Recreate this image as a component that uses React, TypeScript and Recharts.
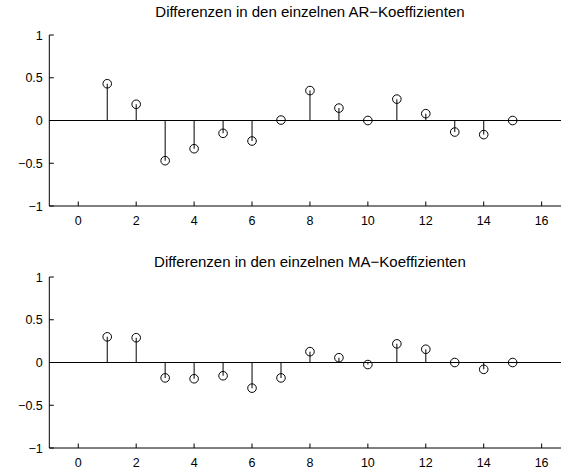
import React from 'react';
import {
  ComposedChart,
  Bar,
  Scatter,
  XAxis,
  YAxis,
  ReferenceLine,
} from 'recharts';

// lag index 1..15 and the coefficient differences per lag
const lags = [1, 2, 3, 4, 5, 6, 7, 8, 9, 10, 11, 12, 13, 14, 15];
const arDiff = [0.43, 0.19, -0.47, -0.33, -0.15, -0.24, 0.005, 0.35, 0.145, 0.0, 0.25, 0.08, -0.135, -0.165, 0.0];
const maDiff = [0.3, 0.29, -0.18, -0.19, -0.155, -0.3, -0.18, 0.127, 0.056, -0.024, 0.218, 0.155, 0.0, -0.08, 0.0];

const xTicks = [0, 2, 4, 6, 8, 10, 12, 14, 16];
const yTicks = [-1, -0.5, 0, 0.5, 1];

const FONT = '"Liberation Sans", Arial, Helvetica, sans-serif';
const INK = '#000';

const minus = (v: number) => String(v).replace('-', '\u2212');

// ticks point inward, labels sit outside the axes
const XTick = (props: any) => {
  const { x, y, payload } = props;
  return (
    <g>
      <line x1={x} x2={x} y1={y} y2={y - 4.5} stroke={INK} />
      <text x={x} y={y + 19} textAnchor="middle" fontSize={12.5} fontFamily={FONT} fill={INK}>
        {minus(payload.value)}
      </text>
    </g>
  );
};

const YTick = (props: any) => {
  const { x, y, payload } = props;
  return (
    <g>
      <line x1={x} x2={x + 4.5} y1={y} y2={y} stroke={INK} />
      <text x={x - 6.5} y={y + 4.5} textAnchor="end" fontSize={12.5} fontFamily={FONT} fill={INK}>
        {minus(payload.value)}
      </text>
    </g>
  );
};

const Ring = (props: any) => (
  <circle cx={props.cx} cy={props.cy} r={4.3} fill="none" stroke={INK} strokeWidth={1} />
);

const PLOT_H = 171;

const StemPlot = ({ values, top }: { values: number[]; top: number }) => {
  const data = lags.map((x, i) => ({ x, v: values[i] }));
  return (
    <ComposedChart
      width={575}
      height={235}
      data={data}
      margin={{ top, right: 4.4, bottom: 235 - top - PLOT_H - 1, left: 48.3 }}
    >
      <XAxis
        type="number"
        dataKey="x"
        domain={[-1, 17]}
        ticks={xTicks}
        height={1}
        tickSize={0}
        tickMargin={0}
        tickLine={false}
        axisLine={{ stroke: INK }}
        tick={<XTick />}
        interval={0}
        allowDataOverflow
      />
      <YAxis
        type="number"
        domain={[-1, 1]}
        ticks={yTicks}
        width={1}
        tickSize={0}
        tickMargin={0}
        tickLine={false}
        axisLine={{ stroke: INK }}
        tick={<YTick />}
        interval={0}
      />
      <ReferenceLine y={0} stroke={INK} strokeWidth={1} />
      <Bar dataKey="v" barSize={1} fill={INK} isAnimationActive={false} />
      <Scatter dataKey="v" shape={<Ring />} isAnimationActive={false} />
    </ComposedChart>
  );
};

const Title = ({ text, y }: { text: string; y: number }) => (
  <div
    style={{
      position: 'absolute',
      left: 49.3,
      width: 521.3,
      top: y,
      textAlign: 'center',
      fontFamily: FONT,
      fontSize: 15,
      lineHeight: '15px',
      whiteSpace: 'nowrap',
      color: INK,
    }}
  >
    {text}
  </div>
);

export default function App() {
  return (
    <div
      style={{
        position: 'absolute',
        left: 0,
        top: 0,
        width: 561,
        height: 470,
        overflow: 'hidden',
        background: '#fff',
      }}
    >
      <div style={{ position: 'absolute', left: 0, top: 0 }}>
        <StemPlot values={arDiff} top={35} />
      </div>
      <div style={{ position: 'absolute', left: 0, top: 235 }}>
        <StemPlot values={maDiff} top={42} />
      </div>
      <Title text={'Differenzen in den einzelnen AR\u2212Koeffizienten'} y={4} />
      <Title text={'Differenzen in den einzelnen MA\u2212Koeffizienten'} y={254} />
    </div>
  );
}
